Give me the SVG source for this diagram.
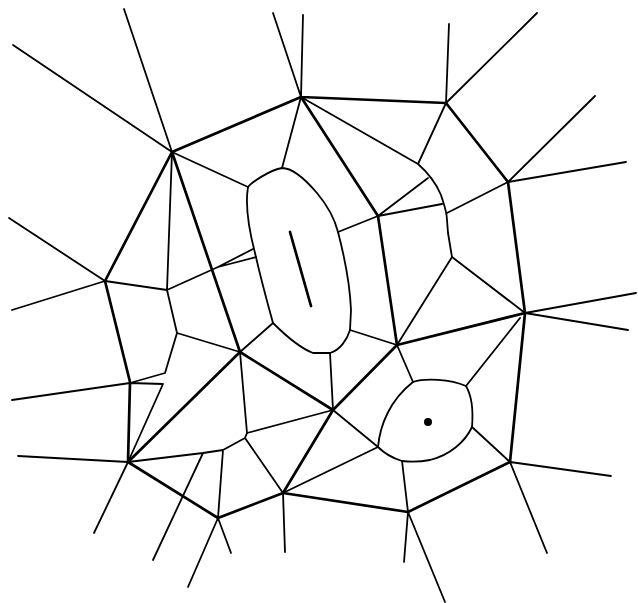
<svg xmlns="http://www.w3.org/2000/svg" width="638" height="603" viewBox="0 0 638 603">
<style>
.tk{stroke:#000;stroke-width:2.7;fill:none;stroke-linecap:round;stroke-linejoin:round}
.tn{stroke:#000;stroke-width:1.8;fill:none;stroke-linecap:round;stroke-linejoin:round}
</style>
<rect width="638" height="603" fill="#fff"/>
<g id="thin-edges" class="tn">
<path d="M13,45L172,152M124,9L172,152M273,13L301,97M303,15L301,97M172,152L248,187M301,97L282,168"/>
<path d="M172,152L167,290M105,281L167,290M167,290L218,267M218,267L253,249M218,267L256,257M167,290L177,333"/>
<path d="M9,218L105,281M12,310L105,281M12,400L130,383M130,383L165,373M130,383L163,384M165,373L177,333M163,384L128,462"/>
<path d="M177,333L240,352M240,352L273,323M240,352L247,433M247,433L333,410M18,456L128,462M128,462L94,533"/>
<path d="M128,462L203,453L223,450L245,438L247,433M203,453L153,560M223,450L218,518M245,438L283,493"/>
<path d="M218,518L188,587M218,518L231,553M283,493L285,552M283,493L378,447M333,410L378,447M330,353L333,410"/>
<path d="M350,330L397,345M397,345L452,257M397,345L413,382M466,386L520,318M472,427L510,462"/>
<path d="M510,462L611,476M510,462L547,553M408,512L402,461M408,512L404,562M408,512L445,602"/>
<path d="M525,313L628,330M525,313L636,293M525,313L452,257M508,182L626,162M508,182L595,96M446,103L537,13M446,103L449,24"/>
<path d="M301,97L418,164M418,164L446,103M418,164C426,171 436,183 441,195C444,205 447,212 447,220L448,233L452,257M447,213L508,182M428,178L378,216M378,216L442,204M378,216L338,232"/>
</g>
<g id="thick-edges" class="tk">
<path d="M172,152L301,97M172,152L105,281M172,152L240,352M301,97L446,103M301,97L378,216M446,103L508,182M508,182L525,313"/>
<path d="M378,216L397,345M397,345L525,313M397,345L333,410M240,352L333,410M240,352L128,462M105,281L130,382L128,462"/>
<path d="M128,462L218,518M218,518L283,493M283,493L333,410M283,493L408,512M408,512L510,462M510,462L525,313"/>
</g>
<g id="segment-site">
<path class="tk" d="M290,232L311,306"/>
<path class="tn" d="M248,187C252,182 270,170 282,168C292,168 305,179 317,193C327,205 335,220 338,232C344,255 350,285 351,310L350,330C347,340 340,350 330,353L313,353C300,348 285,335 273,323C268,305 260,275 255,253C249,230 245,205 248,187Z"/>
</g>
<g id="point-site">
<path class="tn" d="M413,382C425,378 450,379 466,386C473,398 473,415 472,427C465,442 450,455 430,460C420,462 410,462 402,461C392,458 384,453 378,447C380,425 390,400 413,382Z"/>
<circle cx="428" cy="422" r="4" fill="#000"/>
</g>
</svg>
